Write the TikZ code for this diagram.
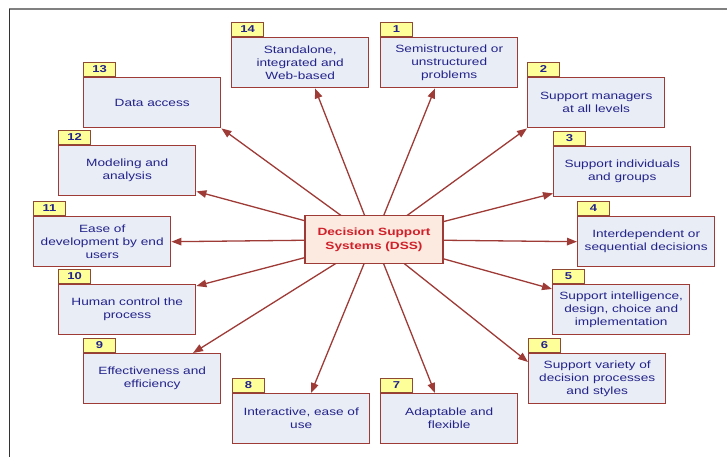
\documentclass[tikz,border=0pt]{standalone}
\usepackage{fontspec}
\setmainfont{Liberation Sans}[FakeStretch=1.3]
\usetikzlibrary{arrows.meta,backgrounds}
\definecolor{bred}{HTML}{9E3B36}
\definecolor{boxfill}{HTML}{E9EDF5}
\definecolor{navy}{HTML}{23238C}
\definecolor{tagyellow}{HTML}{FFFF99}
\definecolor{tagborder}{HTML}{8E4A32}
\definecolor{dssfill}{HTML}{FCE9DF}
\definecolor{dsstext}{HTML}{D0202A}
\begin{document}
\begin{tikzpicture}[x=1pt,y=-1pt,
  box/.style={draw=bred, line width=1.4pt, fill=boxfill, minimum width=137pt, minimum height=50pt,
    inner sep=2pt, align=center, text=navy, font=\fontsize{10.5}{13}\selectfont, anchor=north west},
  tagbox/.style={draw=tagborder, line width=1.2pt, fill=tagyellow, minimum width=32pt, minimum height=14pt,
    inner sep=0pt, text=navy, font=\bfseries\fontsize{10}{10}\selectfont, anchor=south west},
  arr/.style={draw=bred, line width=1.3pt, -{Triangle[length=10pt,width=7.5pt]}}]
\useasboundingbox (0,0) rectangle (727,457);
\draw[gray, line width=1.2pt] (9,9) -- (727,9);
\draw[black!80, line width=1pt] (9,9) -- (9,457);

\node[draw=bred, line width=1.4pt, fill=dssfill, minimum width=138pt, minimum height=48pt, align=center,
  text=dsstext, font=\bfseries\fontsize{10.5}{14}\selectfont] (dss) at (374,239.5) {Decision Support\\Systems (DSS)};

\node[box] (b14) at (231,37) {Standalone,\\integrated and\\Web-based};
\node[box] (b1) at (380,37) {Semistructured or\\unstructured\\problems};
\node[box] (b2) at (527,77) {Support managers\\at all levels};
\node[box] (b3) at (553,146) {Support individuals\\and groups};
\node[box] (b4) at (577,216) {Interdependent or\\sequential decisions};
\node[box] (b5) at (552,284) {Support intelligence,\\design, choice and\\implementation};
\node[box] (b6) at (528,353) {Support variety of\\decision processes\\and styles};
\node[box] (b7) at (380,393) {Adaptable and\\flexible};
\node[box] (b8) at (232,393) {Interactive, ease of\\use};
\node[box] (b9) at (83,353) {Effectiveness and\\efficiency};
\node[box] (b10) at (58,284) {Human control the\\process};
\node[box] (b11) at (33,216) {Ease of\\development by end\\users};
\node[box] (b12) at (58,145) {Modeling and\\analysis};
\node[box] (b13) at (83,77) {Data access};

\foreach \n in {1,...,14}{\node[tagbox] (t\n) at (b\n.north west) {\n};}

\begin{pgfonlayer}{background}
\draw[arr] (dss.center) -- ([xshift=84pt]b14.south west);
\draw[arr] (dss.center) -- ([xshift=55pt]b1.south west);
\draw[arr] (dss.center) -- (b2.south west);
\draw[arr] (dss.center) -- ([yshift=4pt]b3.south west);
\draw[arr] (dss.center) -- (b4.west);
\draw[arr] (dss.center) -- ([yshift=-5pt]b5.north west);
\draw[arr] (dss.center) -- ([yshift=-9pt]b6.north west);
\draw[arr] (dss.center) -- ([xshift=55pt]b7.north west);
\draw[arr] (dss.center) -- ([xshift=79pt]b8.north west);
\draw[arr] (dss.center) -- ([xshift=110pt]b9.north west);
\draw[arr] (dss.center) -- ([yshift=-2pt]b10.north east);
\draw[arr] (dss.center) -- (b11.east);
\draw[arr] (dss.center) -- ([yshift=5pt]b12.south east);
\draw[arr] (dss.center) -- (b13.south east);
\end{pgfonlayer}
\end{tikzpicture}
\end{document}
